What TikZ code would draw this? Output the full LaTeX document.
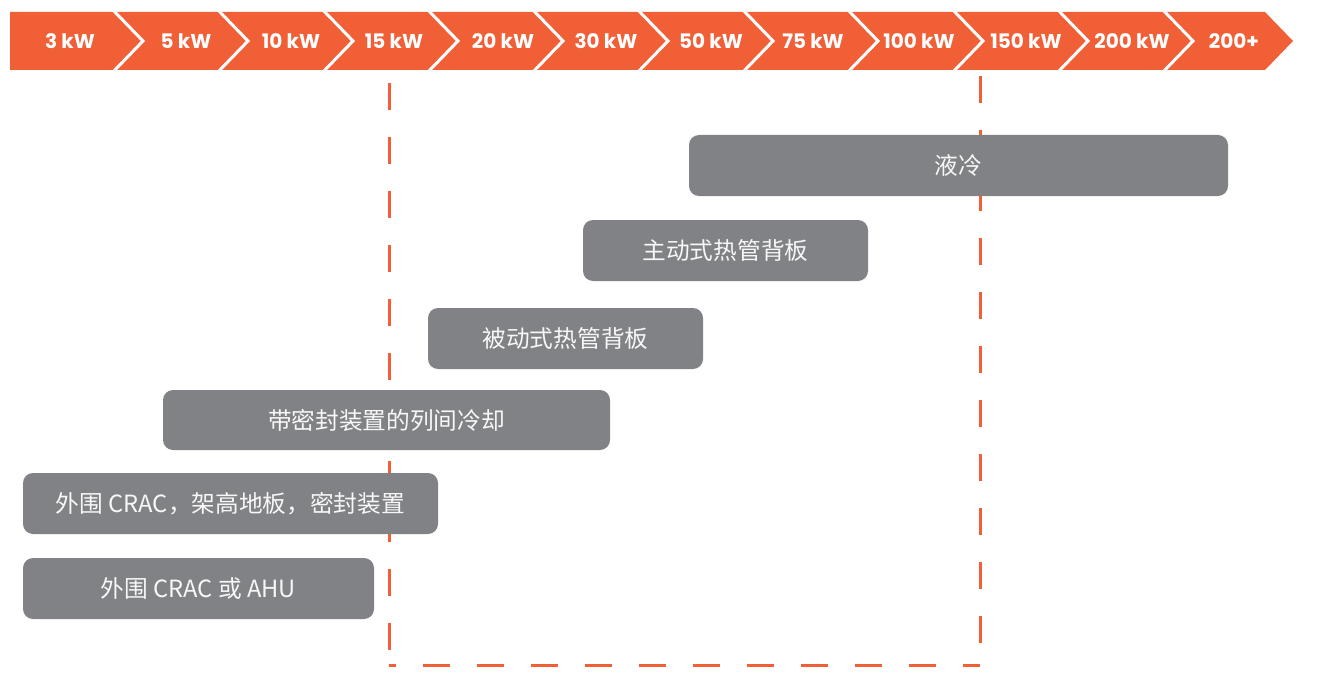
\documentclass[tikz,border=0pt]{standalone}
\usepackage{fontspec}
\setmainfont{Poppins}
\newfontfamily\cjk{Noto Sans CJK SC}
\definecolor{barorange}{HTML}{F15F37}
\definecolor{boxgray}{HTML}{818286}
\definecolor{boxtext}{HTML}{F7F7F7}
\begin{document}
\begin{tikzpicture}[x=1pt,y=-1pt,
  seglabel/.style={text=white,font=\bfseries\fontsize{20}{20}\selectfont,inner sep=0pt},
  tech/.style={fill=boxgray,rounded corners=10pt,text=boxtext,
    font=\cjk\fontsize{23.7}{24}\selectfont,inner sep=0pt,minimum height=61pt},
  sepline/.style={draw=white,line width=3pt},
  dashline/.style={draw=barorange,line width=3pt,dash pattern=on 27pt off 27pt}]
\useasboundingbox (0,0) rectangle (1320,690);

% dashed frame (behind the boxes)
\coordinate (tl) at (389,70);
\coordinate (bl) at (389,665);
\coordinate (br) at (980,665);
\coordinate (tr) at (980,70);
\draw[dashline,dash phase=41pt] (tl) -- (bl);
\draw[dashline,dash phase=20pt] (bl) -- (br);
\draw[dashline,dash phase=48pt] (tr) -- (br);

% top bar
\fill[barorange] (10,12) -- (1265,12) -- (1293,41) -- (1265,70) -- (10,70) -- cycle;
\foreach \b in {112,217,...,1162}
  \draw[sepline] (\b,9) -- (\b+31,41) -- (\b,73);

\foreach \x/\t [count=\i] in {70/3 kW,186/5 kW,291/10 kW,394/15 kW,503/20 kW,606/30 kW,711/50 kW,813/75 kW,919/100 kW,1026/150 kW,1132/200 kW,1234/200+}
  \node[seglabel] (s\i) at (\x,41) {\t};

% technology boxes
\node[tech,minimum width=539pt] (lq) at (958.5,165.5) {液冷};
\node[tech,minimum width=285pt] (ahp) at (725.5,250.5) {主动式热管背板};
\node[tech,minimum width=275pt] (php) at (565.5,338.5) {被动式热管背板};
\node[tech,minimum width=447pt,minimum height=60pt] (irc) at (386.5,420) {带密封装置的列间冷却};
\node[tech,minimum width=415pt] (raf) at (230.5,503.5) {外围 CRAC，架高地板，密封装置};
\node[tech,minimum width=351pt] (ahu) at (198.5,588.5) {外围 CRAC 或 AHU};
\end{tikzpicture}
\end{document}
